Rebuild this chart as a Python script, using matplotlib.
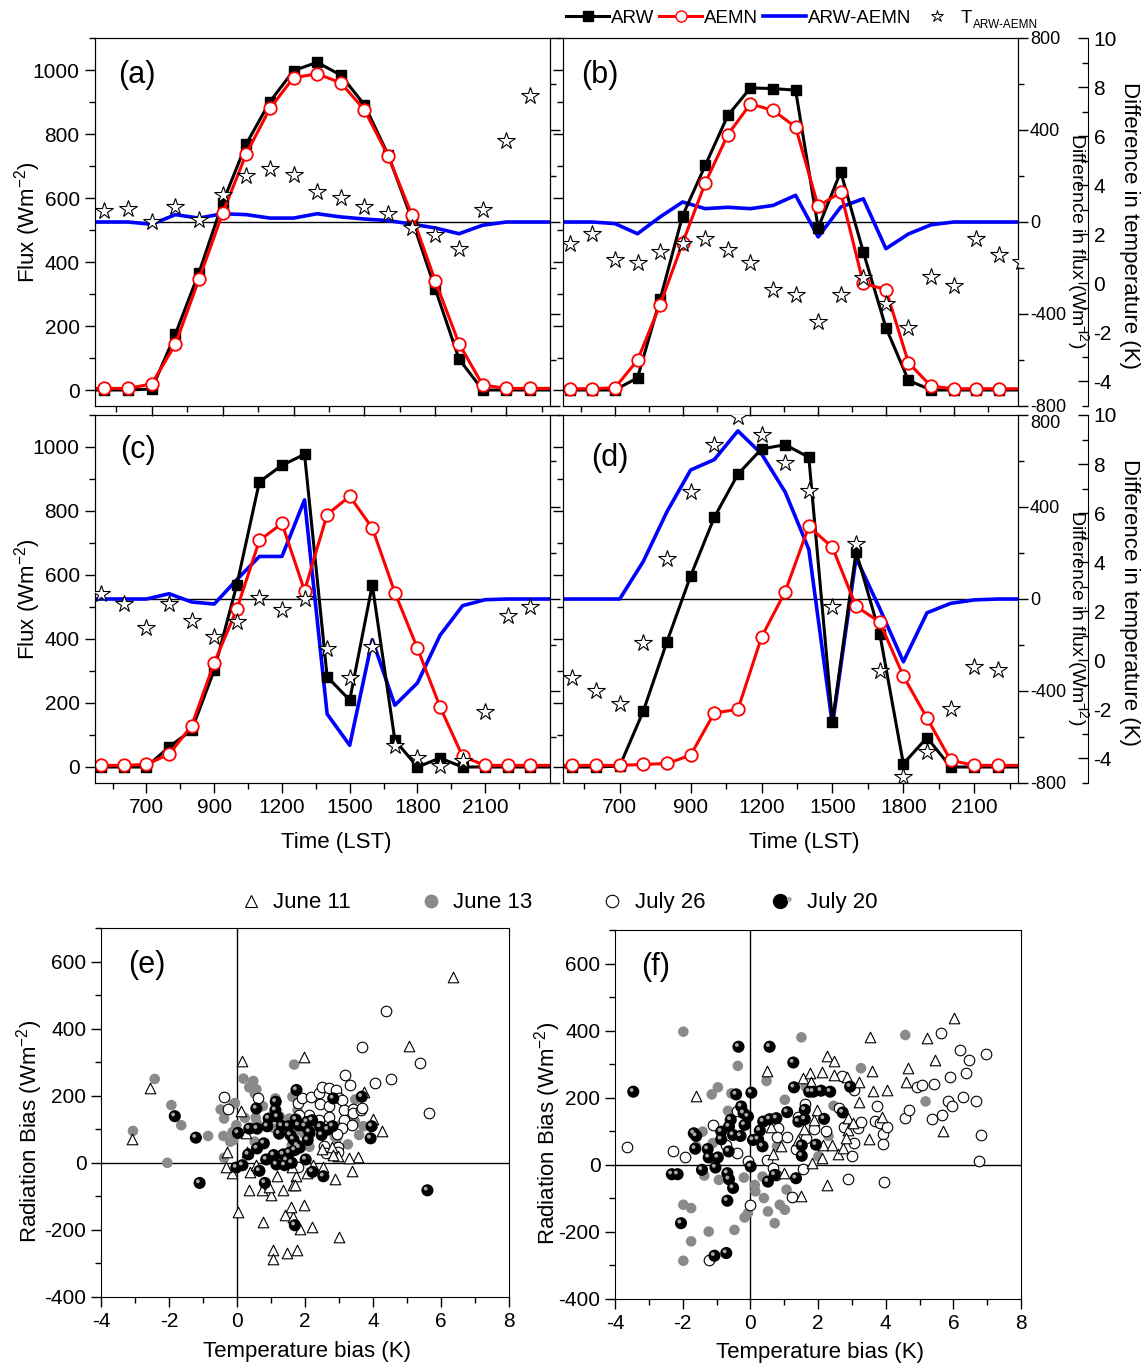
import numpy as np
import matplotlib
matplotlib.use("Agg")
import matplotlib.pyplot as plt
from matplotlib.path import Path
from matplotlib.lines import Line2D
from matplotlib.legend_handler import HandlerTuple

plt.rcParams['font.family'] = ['Liberation Sans', 'DejaVu Sans']
plt.rcParams['mathtext.fontset'] = 'custom'
plt.rcParams['mathtext.rm'] = 'Liberation Sans'
plt.rcParams['mathtext.it'] = 'Liberation Sans:italic'
plt.rcParams['axes.unicode_minus'] = False

# ---------------- data: time series panels ----------------
time_ticks = [2, 5, 8, 11, 14, 17]
time_labels = ['700', '900', '1200', '1500', '1800', '2100']

arw_a = [0, 0, 3, 174, 367, 585, 769, 901, 998, 1024, 984, 891, 735, 535, 315, 97, 0, 0, 0]
aemn_a = [5, 5, 19, 143, 346, 553, 738, 880, 976, 988, 960, 875, 732, 548, 340, 145, 16, 5, 5]
diff_a = [0, 0, -10, 32, 17, 36, 32, 17, 17, 36, 22, 13, 6, -9, -26, -51, -14, 0, 0]
tdiff_a = [2.94, 3.01, 2.51, 3.10, 2.60, 3.62, 4.39, 4.64, 4.41, 3.72, 3.48, 3.10, 2.81,
           2.26, 1.95, 1.41, 2.97, 5.79, 7.65]

arw_b = [0, 0, 0, 38, 283, 545, 702, 858, 944, 942, 937, 507, 682, 431, 195, 30, 0, 0, 0, 0]
aemn_b = [4, 4, 7, 93, 267, 460, 647, 798, 894, 874, 822, 574, 618, 333, 314, 85, 12, 4, 4, 4]
diff_b = [0, 0, -7, -51, 22, 87, 58, 64, 58, 72, 116, -65, 65, 101, -116, -52, -12, 0, 0, 0]
tdiff_b = [1.61, 2.02, 0.97, 0.81, 1.29, 1.61, 1.79, 1.34, 0.81, -0.29, -0.48, -1.58, -0.48,
           0.23, -0.86, -1.81, 0.25, -0.09, 1.79, 1.15, 0.85]

arw_c = [0, 0, 0, 63, 115, 303, 569, 891, 943, 977, 282, 209, 569, 84, 0, 28, 0, 0, 0, 0]
aemn_c = [5, 5, 8, 40, 129, 326, 493, 708, 761, 551, 789, 846, 747, 545, 371, 188, 33, 5, 5, 5]
diff_c = [0, 0, 0, 23, -13, -22, 84, 185, 185, 431, -500, -636, -177, -462, -365, -158, -29, -3, 0, 0]
tdiff_c = [2.71, 2.30, 1.31, 2.29, 1.62, 0.95, 1.56, 2.53, 2.06, 2.51, 0.47, -0.70, 0.53,
           -3.51, -3.98, -4.29, -4.09, -2.11, 1.79, 2.19]

arw_d = [0, 0, 3, 175, 392, 597, 780, 915, 994, 1007, 968, 142, 673, 417, 10, 92, 0, 0, 0]
aemn_d = [5, 5, 5, 8, 11, 37, 169, 180, 406, 548, 752, 686, 502, 453, 284, 153, 21, 5, 5]
diff_d = [0, 0, 0, 164, 380, 561, 606, 731, 631, 465, 216, -548, 179, -41, -273, -60, -19, -4, 0]
tdiff_d = [-0.73, -1.24, -1.77, 0.71, 4.12, 6.86, 8.76, 9.93, 9.17, 8.03, 6.90, 2.18, 4.73,
           -0.43, -4.77, -3.73, -2.00, -0.29, -0.39]

# ---------------- data: scatter panels (temperature bias K, radiation bias W m-2) ----------------
e_jun11_T = [-3.09, -2.55, 0.15, 1.98, 6.36, 5.06, 3.74, 4.00, 4.27, 3.55, 3.29, 3.37, 2.96, 2.88,
             2.54, 2.24, 2.05, 1.74, 1.65, 1.63, 1.17, 1.34, 1.00, 0.73, 0.35, 0.38, -0.16, -0.32,
             -0.29, 0.12, 0.26, 0.55, 0.04, 0.77, 1.41, 1.66, 1.59, 1.98, 1.85, 2.20, 3.00, 1.05,
             1.07, 1.48, 1.77, 2.49, 2.78, 2.83, 0.94, 0.28, 1.71]
e_jun11_R = [70, 222, 303, 316, 553, 349, 212, 130, 96, 18, 13, -23, 20, -48,
             -11, -6, -29, -39, -67, -12, -39, -81, -96, -81, -81, -26, -29, -11,
             33, 155, 89, -6, -146, -175, -155, -161, -131, -126, -197, -190, -220, -260,
             -287, -268, -260, 40, 48, 23, -71, 33, -66]

e_jun13_T = [-3.06, -2.42, -1.93, -1.64, -2.05, -0.85, -0.48, -0.38, -0.40, -0.20, -0.38, -0.10,
             -0.02, 0.19, 0.36, 0.48, 0.57, 0.23, 0.52, 0.55, 0.76, 1.13, 1.68, 1.63, 1.54, 1.78,
             1.97, 2.29, 2.94, 3.26, 3.48, 3.59, 3.72, 0.52, -0.13, 2.13, 1.11, 3.05, -0.06,
             -0.11, 0.58, 1.85, 1.61, 2.88, 3.47, 1.26]
e_jun13_R = [95, 250, 172, 112, 0, 80, 159, 132, 80, 63, 15, 175,
             112, 251, 225, 244, 219, 134, 207, 135, 169, 192, 293, 197, 132, 157,
             87, 117, 73, 55, 189, 83, 109, 63, 92, 48, 102, 112, 178,
             68, 118, 98, 53, 78, 123, 138]

e_jul26_T = [-0.37, -0.27, 0.62, 1.79, 1.92, 2.13, 2.19, 2.42, 2.51, 2.70, 2.91, 3.19, 3.32, 3.67,
             4.05, 4.37, 4.53, 5.38, 5.66, 2.45, 2.72, 2.99, 3.10, 3.15, 3.42, 3.15, 3.42, 3.64,
             3.69, 3.39, 3.10, 2.94, 2.96, 2.96, 2.56, 2.62, 2.13, 2.40, 2.70, 1.81, 1.78]
e_jul26_R = [197, 159, 194, 179, 192, 142, 195, 207, 225, 222, 217, 261, 232, 344,
             239, 453, 249, 298, 150, 175, 169, 192, 187, 157, 159, 129, 149, 157,
             164, 114, 105, 87, 48, 33, 50, 30, 90, 127, 137, 142, -12]

e_jul20_T = [-1.83, -1.21, -1.10, 0.03, -0.02, 0.16, 0.33, 0.36, 0.57, 0.59, 0.59, 0.66, 0.79, 0.82,
             0.86, 0.89, 0.93, 1.08, 1.13, 1.14, 1.16, 1.19, 1.24, 1.32, 1.36, 1.40, 1.46, 1.51,
             1.54, 1.57, 1.61, 1.66, 1.70, 1.73, 1.75, 1.78, 1.81, 1.84, 2.00, 2.02, 2.06, 2.08,
             2.13, 2.21, 2.22, 2.45, 2.49, 2.54, 2.67, 2.81, 2.83, 3.67, 3.93, 3.96, 5.60, 1.70]
e_jul20_R = [139, 75, -60, 89, -14, -7, 25, 102, 162, 102, 43, -24, 58, -60,
             10, 109, 132, 23, 157, 182, -5, 137, 87, 110, 25, -7, 8, 109,
             30, 83, 0, 70, 38, 129, 217, 51, 112, 45, 109, 10, 122, 68,
             92, 127, -27, 107, 83, -40, 99, 109, 192, 197, 73, 109, -82, -186]

f_jun11_T = [-1.62, 0.50, 0.60, 0.67, 0.92, 0.99, 1.42, 1.51, 1.56, 1.76, 1.78, 2.11, 2.26, 2.46,
             2.48, 2.26, 2.11, 1.96, 1.88, 1.58, 1.81, 2.16, 2.41, 2.58, 2.75, 2.85, 2.90, 2.90,
             3.03, 3.20, 3.20, 3.54, 3.59, 3.64, 3.50, 4.04, 3.89, 4.66, 4.61, 5.23, 5.45, 5.70,
             6.02, 2.83]
f_jun11_R = [205, 281, 112, 33, 55, -25, 74, -94, 260, 275, 248, 276, 323, 308,
             268, -60, 20, 164, 134, 106, 5, 60, 60, 32, 50, 263, 104, 139,
             126, 246, 186, 382, 281, 221, 76, 223, 142, 288, 246, 377, 313, 102,
             437, 79]

f_jun13_T = [-1.98, -1.98, -1.98, -1.75, -1.75, -1.23, -1.14, -0.96, -1.36, -0.93, -0.66, -0.56,
             -0.47, -0.37, -0.19, -0.17, -0.07, 0.13, 0.15, 0.36, 0.40, 0.48, 0.52, 0.72, 0.87,
             1.02, 1.02, 1.07, 1.51, 1.63, 2.01, 2.31, 2.46, 3.27, 4.58, 5.18, 0.79, -1.11,
             -1.60, -1.41]
f_jun13_R = [397, -286, -119, -129, -228, -199, 210, 231, -32, -45, 161, 213,
             -194, 295, -38, -157, -144, -60, -79, -35, -99, 250, -139, -174, -119,
             194, -134, -74, 380, 233, 25, 86, 176, 288, 387, 189, 55, 65,
             55, 99]

f_jul26_T = [-3.66, -2.28, -1.92, -1.11, -1.21, -0.71, -0.40, -0.40, -0.07, 0.00, 0.50, 0.67, 0.77,
             0.82, 0.79, 1.09, 1.22, 1.35, 1.42, 1.61, 1.66, 1.56, 1.88, 2.24, 2.63, 2.70, 2.77,
             2.90, 3.05, 3.07, 3.00, 3.17, 3.27, 3.67, 3.74, 3.84, 3.92, 3.91, 4.04, 3.94, 4.58,
             4.68, 4.93, 5.08, 5.43, 5.38, 5.67, 5.65, 5.84, 5.89, 5.97, 6.19, 6.30, 6.37, 6.45,
             6.66, 6.81, 6.76, 6.96]
f_jul26_R = [53, 42, 22, 119, -285, 58, 35, 159, 12, -119, 15, -10, -30,
             109, 82, 82, -97, 47, 144, 180, 81, -13, 106, 102, 169, 266, 114,
             -43, 223, 66, 27, 109, 127, 132, 174, 126, 92, 62, 114, -50, 139,
             164, 233, 238, 241, 138, 148, 394, 191, 261, 174, 342, 201, 275, 311,
             189, 88, 12, 330]

f_jul20_T = [-3.46, -2.32, -2.15, -2.05, -1.67, -1.60, -1.63, -1.43, -1.26, -1.23, -0.96, -1.03,
             -0.86, -0.86, -0.71, -1.06, -0.64, -0.68, -0.68, -0.63, -0.51, -0.63, -0.58, -0.51,
             -0.42, -0.35, -0.29, -0.27, -0.20, -0.17, -0.07, 0.03, 0.01, 0.08, 0.23, 0.28, 0.36,
             0.38, 0.52, 0.57, 0.57, 0.72, 0.77, 1.09, 1.27, 1.29, 1.35, 1.42, 1.52, 1.52, 1.61,
             1.61, 1.74, 1.86, 1.94, 2.09, 2.18, 2.36, 2.73, 2.95]
f_jul20_R = [218, -28, -28, -174, 94, 86, 48, -15, 47, 22, 22, -8,
             99, 76, -263, -271, 40, -25, -107, -43, -69, 114, 134, 89,
             210, 352, 86, 174, 154, 119, 144, 215, -5, 74, 76, 102, 55,
             129, -50, 352, 136, -30, 139, 157, 305, 231, -40, 129, 58, 27, 164,
             136, 218, 218, 60, 221, 137, 218, 156, 233]

# ---------------- figure ----------------
W, H = 1143, 1366
fig = plt.figure(figsize=(W / 100, H / 100), dpi=100)


def rect(l, t, r, b):
    return [l / W, 1 - b / H, (r - l) / W, (b - t) / H]


FS_TICK = 15
FS_LAB = 16


def time_panel(box, xlim, arw, aemn, diff, tdiff, tag, tagpos, left_lab, right_lab, bottom_lab,
               top_label_down=False):
    ax = fig.add_axes(rect(*box))
    ax2 = ax.twinx()
    ax3 = ax.twinx()
    ax2.set_zorder(1)
    ax.set_zorder(2)
    ax3.set_zorder(3)
    ax.patch.set_visible(False)
    ax3.patch.set_visible(False)

    x = np.arange(len(arw))
    xp = np.arange(-1, len(arw) + 1)
    ax2.axhline(0, color='black', lw=1.0)
    ax2.plot(xp, np.r_[diff[0], diff, diff[-1]], color='#0000ff', lw=2.6)
    ax.plot(xp, np.r_[arw[0], arw, arw[-1]], color='black', lw=2.2)
    ax.plot(x, arw, ls='none', marker='s', ms=7.5, color='black')
    ax.plot(xp, np.r_[aemn[0], aemn, aemn[-1]], color='#ff0000', lw=2.2)
    ax.plot(x, aemn, ls='none', marker='o', ms=9, mfc='white', mec='#ff0000', mew=1.3)
    ax3.plot(np.arange(len(tdiff)), tdiff, ls='none', marker='*', ms=13,
             mfc='white', mec='black', mew=0.8)

    ax.set_xlim(*xlim)
    ax.set_ylim(-50, 1100)
    ax2.set_ylim(-800, 800)
    ax3.set_ylim(-5, 10)

    ax.set_xticks(time_ticks)
    ax.set_xticks(np.arange(0.5, 19, 3), minor=True)
    ax.set_xticklabels(time_labels if bottom_lab else [])
    ax.set_yticks(np.arange(0, 1001, 200))
    ax.set_yticks(np.arange(0, 1101, 100), minor=True)
    ax.tick_params(which='major', direction='out', length=7, width=1, labelsize=FS_TICK,
                   labelleft=left_lab, pad=4)
    ax.tick_params(which='minor', direction='out', length=4, width=1)

    ax2.set_yticks([-800, -400, 0, 400, 800])
    ax2.set_yticks(np.arange(-800, 801, 200), minor=True)
    ax2.tick_params(which='major', direction='out', length=7, width=1, labelsize=13,
                    labelright=right_lab, pad=1.5)
    ax2.tick_params(which='minor', direction='out', length=4, width=1)
    if top_label_down:
        ax2.yaxis.get_major_ticks()[-1].label2.set_va('top')

    if right_lab:
        ax3.spines['right'].set_position(('axes', 1 + 70 / 455))
        for s in ['left', 'top', 'bottom']:
            ax3.spines[s].set_visible(False)
        ax3.set_yticks(np.arange(-4, 11, 2))
        ax3.set_yticks(np.arange(-5, 11, 1), minor=True)
        ax3.tick_params(which='major', direction='in', length=7, width=1, labelsize=FS_TICK, pad=4)
        ax3.tick_params(which='minor', direction='in', length=4, width=1)
        ax3.text(1.132, 0.45, 'Difference in flux (Wm$^{-2}$)', transform=ax.transAxes,
                 rotation=270, ha='center', va='center', fontsize=14)
        ax3.text(1.245, 0.49, 'Difference in temperature (K)', transform=ax.transAxes,
                 rotation=270, ha='center', va='center', fontsize=FS_LAB)
    else:
        ax3.set_axis_off()
    if left_lab:
        ax.text(-0.148, 0.5, 'Flux (Wm$^{-2}$)', transform=ax.transAxes, rotation=90,
                ha='center', va='center', fontsize=FS_LAB)
    if bottom_lab:
        ax.text(0.53, -0.163, 'Time (LST)', transform=ax.transAxes,
                ha='center', va='center', fontsize=FS_LAB)
    ax.text(tagpos[0], tagpos[1], tag, transform=ax.transAxes, ha='center', va='center',
            fontsize=22)
    return ax


time_panel((95, 38, 550, 406), (-0.4, 18.85), arw_a, aemn_a, diff_a, tdiff_a, '(a)', (0.092, 0.90),
           True, False, False)
time_panel((563, 38, 1018, 406), (-0.3, 19.85), arw_b, aemn_b, diff_b, tdiff_b, '(b)', (0.081, 0.90),
           False, True, False)
time_panel((95, 415, 550, 783), (-0.28, 19.87), arw_c, aemn_c, diff_c, tdiff_c, '(c)', (0.095, 0.905),
           True, False, True)
time_panel((563, 415, 1018, 783), (-0.4, 18.85), arw_d, aemn_d, diff_d, tdiff_d, '(d)', (0.103, 0.883),
           False, True, True, top_label_down=True)

# top legend
h_arw = Line2D([], [], color='black', lw=2.2, marker='s', ms=7)
h_aemn = Line2D([], [], color='#ff0000', lw=2.2, marker='o', ms=8, mfc='white', mec='#ff0000')
h_diff = Line2D([], [], color='#0000ff', lw=2.6)
h_t = Line2D([], [], ls='none', marker='*', ms=9, mfc='white', mec='black', mew=0.7)
leg = fig.legend([h_arw, h_aemn, h_diff, h_t], ['ARW', 'AEMN', 'ARW-AEMN', 'T'],
                 loc='center left', bbox_to_anchor=(566 / W, 1 - 18 / H), ncol=4, frameon=False,
                 fontsize=13.5, handlelength=2.3, handletextpad=0.1, columnspacing=0.25,
                 borderpad=0, borderaxespad=0)
fig.canvas.draw()
bb = leg.get_texts()[-1].get_window_extent()
fig.text(bb.x1 / W + 1 / W, (bb.y0 + 2) / H, 'ARW-AEMN', fontsize=8.5, ha='left', va='center')

# ---------------- scatter panels ----------------
theta = np.linspace(0, 2 * np.pi, 41)
hl_verts = np.vstack([np.c_[-0.28 + 0.32 * np.cos(theta), 0.28 + 0.32 * np.sin(theta)],
                      [[1, 0], [-1, 0], [0, 1], [0, -1]]])
hl_codes = [Path.MOVETO] + [Path.LINETO] * 39 + [Path.CLOSEPOLY] + [Path.MOVETO] * 4
HL = Path(hl_verts, hl_codes)

GRAY = '#8a8a8a'
S = 58


def scatter_panel(box, groups, tag, tagpos, ylab_x, xlab_y):
    ax = fig.add_axes(rect(*box))
    (t11, r11), (t13, r13), (t26, r26), (t20, r20) = groups
    ax.axhline(0, color='black', lw=1.0, zorder=1)
    ax.axvline(0, color='black', lw=1.0, zorder=1)
    ax.scatter(t13, r13, s=S, c=GRAY, edgecolors='none', zorder=2)
    ax.scatter(t26, r26, s=S, facecolors='white', edgecolors='black', linewidths=0.8, zorder=3)
    ax.scatter(t11, r11, s=S, marker='^', facecolors='white', edgecolors='black',
               linewidths=0.8, zorder=3)
    ax.scatter(t20, r20, s=S + 18, c='black', edgecolors='none', zorder=4)
    ax.scatter(t20, r20, s=S + 18, c='#a8a8a8', marker=HL, edgecolors='none', zorder=5)
    ax.set_xlim(-4, 8)
    ax.set_ylim(-400, 700)
    ax.set_xticks(np.arange(-4, 9, 2))
    ax.set_xticks(np.arange(-4, 9, 1), minor=True)
    ax.set_yticks(np.arange(-400, 601, 200))
    ax.set_yticks(np.arange(-400, 701, 100), minor=True)
    ax.tick_params(which='major', direction='out', length=7, width=1, labelsize=FS_TICK)
    ax.tick_params(which='minor', direction='out', length=4, width=1)
    ax.text(ylab_x, 0.45, 'Radiation Bias (Wm$^{-2}$)', transform=ax.transAxes, rotation=90,
            ha='center', va='center', fontsize=FS_LAB)
    ax.text(0.506, xlab_y, 'Temperature bias (K)', transform=ax.transAxes,
            ha='center', va='center', fontsize=FS_LAB)
    ax.text(tagpos[0], tagpos[1], tag, transform=ax.transAxes, ha='center', va='center',
            fontsize=22)
    return ax


scatter_panel((101, 928, 509, 1297),
              [(e_jun11_T, e_jun11_R), (e_jun13_T, e_jun13_R), (e_jul26_T, e_jul26_R),
               (e_jul20_T, e_jul20_R)], '(e)', (0.113, 0.90), -0.174, -0.149)
scatter_panel((615, 930, 1021, 1299),
              [(f_jun11_T, f_jun11_R), (f_jun13_T, f_jun13_R), (f_jul26_T, f_jul26_R),
               (f_jul20_T, f_jul20_R)], '(f)', (0.099, 0.90), -0.167, -0.144)

g11 = Line2D([], [], ls='none', marker='^', ms=9, mfc='white', mec='black', mew=0.8)
g13 = Line2D([], [], ls='none', marker='o', ms=10, mfc=GRAY, mec='none')
g26 = Line2D([], [], ls='none', marker='o', ms=9, mfc='white', mec='black', mew=0.8)
g20a = Line2D([], [], ls='none', marker='o', ms=11, mfc='black', mec='none')
g20b = Line2D([], [], ls='none', marker=HL, ms=11, mfc='#a8a8a8', mec='none')
fig.legend([g11, g13, g26, (g20a, g20b)], ['June 11', 'June 13', 'July 26', 'July 20'],
           handler_map={tuple: HandlerTuple(ndivide=None, pad=0)},
           loc='center', bbox_to_anchor=(0.489, 0.339), ncol=4, frameon=False, fontsize=16,
           handlelength=1.0, handletextpad=0.5, columnspacing=3.1, borderpad=0)

fig.savefig('out.png', dpi=100)
